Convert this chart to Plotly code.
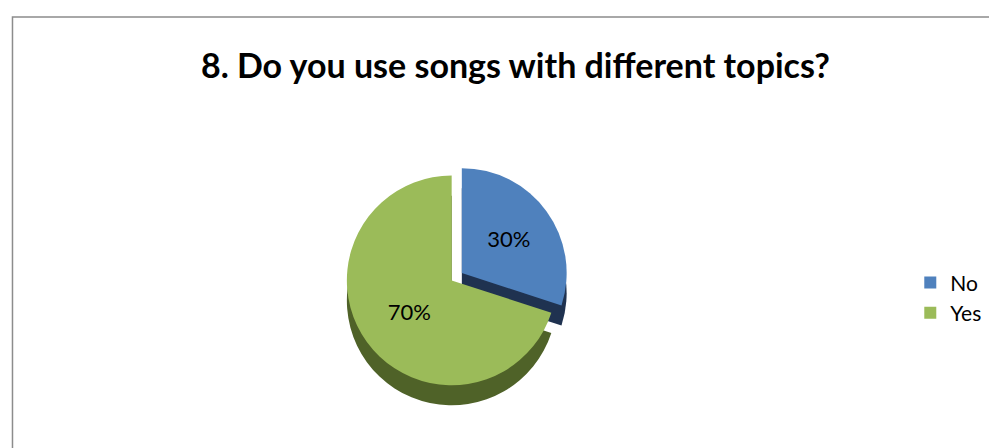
import plotly.graph_objects as go

labels = ["No", "Yes"]
values = [30, 70]
colors = ["#4F81BD", "#9BBB59"]
side_colors = ["#1F3250", "#4F6228"]
title_text = "8. Do you use songs with different topics?"

fig = go.Figure()

# shadow (depth) pie
fig.add_trace(go.Pie(
    labels=labels, values=values, sort=False, direction="clockwise", rotation=0,
    pull=[0.12, 0], marker=dict(colors=side_colors, line=dict(width=0)),
    textinfo="none", hoverinfo="skip", showlegend=False,
    domain=dict(x=[0.18, 0.71], y=[0.085, 0.609]),
))

# top pie
fig.add_trace(go.Pie(
    labels=labels, values=values, sort=False, direction="clockwise", rotation=0,
    pull=[0.12, 0], marker=dict(colors=colors, line=dict(width=0)),
    textinfo="percent", textposition="inside", insidetextorientation="horizontal",
    textfont=dict(family="Lato", size=22, color="#000000"),
    domain=dict(x=[0.18, 0.71], y=[0.13, 0.654]),
))

fig.update_layout(
    width=997, height=448,
    margin=dict(l=0, r=0, t=0, b=0),
    paper_bgcolor="white", plot_bgcolor="white",
    title=dict(text="<b>" + title_text + "</b>", x=0.509, xanchor="center",
               y=0.87, yanchor="middle",
               font=dict(family="Lato", size=34, color="#000000")),
    legend=dict(x=0.905, y=0.353, xanchor="left", yanchor="middle",
                font=dict(family="Lato", size=21, color="#000000"),
                itemwidth=30),
    shapes=[dict(type="rect", xref="paper", yref="paper",
                 x0=0.0045, x1=1.02, y0=-0.02, y1=1 - 9 / 448,
                 line=dict(color="#8C8C8C", width=1.5), fillcolor="rgba(0,0,0,0)")],
)

fig.write_html("out.html")
